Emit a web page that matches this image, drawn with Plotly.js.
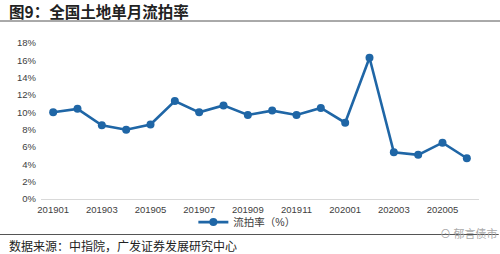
<!DOCTYPE html>
<html>
<head>
<meta charset="utf-8">
<script src="https://cdn.plot.ly/plotly-3.0.1.min.js"></script>
<style>
html,body{margin:0;padding:0;background:#fff;}
#chart{width:500px;height:254px;}
</style>
</head>
<body>
<div id="chart"></div>
<script>
const months = ["201901","201902","201903","201904","201905","201906","201907","201908","201909","201910","201911","201912","202001","202002","202003","202004","202005","202006"];
const rates = [10.0, 10.4, 8.5, 8.0, 8.6, 11.3, 10.0, 10.8, 9.7, 10.2, 9.7, 10.5, 8.8, 16.3, 5.4, 5.1, 6.5, 4.7];
const xTickLabels = ["201901","201903","201905","201907","201909","201911","202001","202003","202005"];
const yTicks = [0,2,4,6,8,10,12,14,16,18];
const seriesName = "流拍率（%）";
const titleText = "图9：全国土地单月流拍率";
const sourceText = "数据来源：中指院，广发证券发展研究中心";
const watermark = "郁言债市";

const cjk = '"Liberation Sans", "Noto Sans CJK SC", Arial, sans-serif';
const lineColor = "#1f66a6";

const trace = {
  x: months, y: rates, type: "scatter", mode: "lines+markers",
  name: seriesName,
  line: {color: lineColor, width: 2.6},
  marker: {color: lineColor, size: 8},
  cliponaxis: false
};

const layout = {
  width: 500, height: 254,
  margin: {l: 41, r: 21, t: 43, b: 55},
  paper_bgcolor: "#fff", plot_bgcolor: "#fff",
  font: {family: cjk, size: 9.5, color: "#404040"},
  showlegend: true,
  legend: {orientation: "h", x: 0.47, xanchor: "center", y: -0.148, yanchor: "middle",
           bgcolor: "rgba(0,0,0,0)", borderwidth: 0,
           font: {family: cjk, size: 10.5, color: "#404040"}, itemwidth: 30, tracegroupgap: 0},
  xaxis: {type: "category", range: [-0.5, 17.5], tickvals: xTickLabels, ticktext: xTickLabels,
          showgrid: false, zeroline: false, showline: true, linecolor: "#d9d9d9", linewidth: 1,
          ticks: "", ticklabelstandoff: 2, tickfont: {size: 9.5, color: "#404040"}, fixedrange: true},
  yaxis: {range: [0, 18], tickvals: yTicks, ticktext: yTicks.map(v => v + "%"),
          showgrid: false, zeroline: false, showline: false, ticks: "",
          ticklabelstandoff: 4, tickfont: {size: 9.5, color: "#404040"}, fixedrange: true},
  shapes: [
    {type: "line", xref: "paper", yref: "paper", x0: -0.094, x1: 1.05,
     y0: (254 - 55 - 21) / 156, y1: (254 - 55 - 21) / 156, line: {color: "#555", width: 1}},
    {type: "line", xref: "paper", yref: "paper", x0: -0.094, x1: 1.045,
     y0: (254 - 55 - 234.5) / 156, y1: (254 - 55 - 234.5) / 156, line: {color: "#555", width: 1}}
  ],
  annotations: [
    {text: titleText, xref: "paper", yref: "paper", x: -0.078, xanchor: "left",
     y: (254 - 55 - 11) / 156, yanchor: "middle", showarrow: false,
     font: {family: '"Noto Sans CJK SC", sans-serif', size: 15.5, color: "#222", weight: 700}},
    {text: sourceText, xref: "paper", yref: "paper", x: -0.078, xanchor: "left",
     y: (254 - 55 - 245) / 156, yanchor: "middle", showarrow: false,
     font: {family: '"Noto Sans CJK SC", sans-serif', size: 12, color: "#222"}},
    {text: "⊙ " + watermark, xref: "paper", yref: "paper", x: 1.045, xanchor: "right",
     y: (254 - 55 - 233) / 156, yanchor: "middle", showarrow: false,
     font: {family: '"Noto Sans CJK SC", sans-serif', size: 11, color: "#aaa"}}
  ]
};

Plotly.newPlot("chart", [trace], layout, {displayModeBar: false, staticPlot: true});
</script>
</body>
</html>
